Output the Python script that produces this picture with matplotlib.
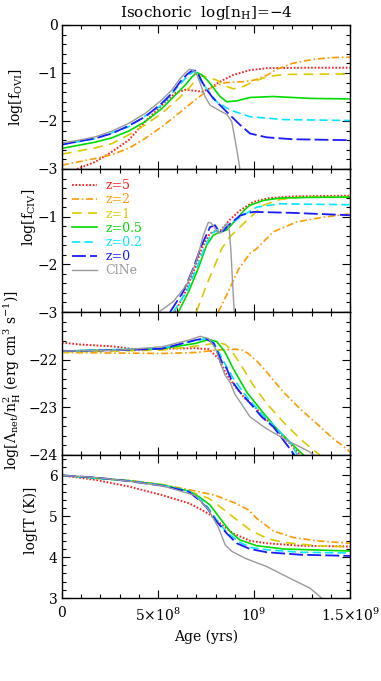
"""
Isochoric cooling, log[n_H] = -4: O VI and C IV fractions, net cooling
and temperature against age for several redshifts, plus the CIE case.
"""
import numpy as np
import matplotlib
matplotlib.use('Agg')
import matplotlib.pyplot as plt
from matplotlib.ticker import FixedLocator, MultipleLocator, FixedFormatter

# ---- data (ages in Gyr, converted to yrs when plotted) ----
labels = ['z=5', 'z=2', 'z=1', 'z=0.5', 'z=0.2', 'z=0', 'ClNe']

# log f_OVI
ovi_age = {
    'z=5': [0.078, 0.174, 0.26, 0.347, 0.434, 0.52, 0.59, 0.642, 0.694, 0.73, 0.77, 0.823, 0.892, 0.979, 1.066, 1.25, 1.5],
    'z=2': [0, 0.174, 0.26, 0.347, 0.434, 0.52, 0.608, 0.694, 0.78, 0.85, 0.95, 1.0, 1.066, 1.12, 1.2, 1.3, 1.4, 1.5],
    'z=1': [0, 0.174, 0.26, 0.347, 0.434, 0.52, 0.608, 0.66, 0.70, 0.727, 0.754, 0.806, 0.858, 0.892, 0.944, 0.996, 1.066, 1.153, 1.5],
    'z=0.5': [0, 0.174, 0.26, 0.347, 0.434, 0.52, 0.59, 0.642, 0.677, 0.703, 0.729, 0.764, 0.823, 0.858, 0.91, 0.979, 1.1, 1.3, 1.5],
    'z=0.2': [0, 0.174, 0.347, 0.52, 0.608, 0.66, 0.686, 0.70, 0.719, 0.771, 0.806, 0.875, 0.979, 1.153, 1.5],
    'z=0': [0, 0.174, 0.26, 0.347, 0.434, 0.52, 0.573, 0.616, 0.651, 0.677, 0.694, 0.712, 0.729, 0.754, 0.788, 0.858, 0.927, 0.979, 1.066, 1.2, 1.5],
    'ClNe': [0, 0.087, 0.174, 0.26, 0.347, 0.434, 0.52, 0.573, 0.616, 0.642, 0.665, 0.686, 0.703, 0.72, 0.745, 0.771, 0.823, 0.858, 0.884, 0.9, 0.918, 0.927],
}
ovi_val = {
    'z=5': [-3.0, -2.85, -2.64, -2.40, -2.01, -1.67, -1.42, -1.35, -1.37, -1.39, -1.32, -1.18, -1.04, -0.94, -0.90, -0.89, -0.89],
    'z=2': [-2.92, -2.78, -2.70, -2.57, -2.36, -2.12, -1.84, -1.56, -1.30, -1.20, -1.18, -1.15, -1.05, -0.92, -0.80, -0.72, -0.68, -0.67],
    'z=1': [-2.69, -2.56, -2.47, -2.29, -2.08, -1.84, -1.53, -1.32, -1.13, -1.06, -1.08, -1.15, -1.28, -1.33, -1.28, -1.18, -1.08, -1.03, -1.02],
    'z=0.5': [-2.57, -2.44, -2.35, -2.21, -2.01, -1.74, -1.46, -1.25, -1.08, -0.99, -1.04, -1.18, -1.49, -1.60, -1.58, -1.51, -1.49, -1.53, -1.54],
    'z=0.2': [-2.49, -2.37, -2.12, -1.67, -1.26, -1.04, -0.97, -0.99, -1.15, -1.42, -1.60, -1.77, -1.91, -1.97, -1.99],
    'z=0': [-2.49, -2.36, -2.26, -2.10, -1.91, -1.63, -1.42, -1.18, -1.03, -0.95, -0.95, -1.04, -1.18, -1.35, -1.53, -1.81, -2.08, -2.26, -2.34, -2.38, -2.40],
    'ClNe': [-2.46, -2.40, -2.33, -2.21, -2.05, -1.84, -1.56, -1.35, -1.11, -1.00, -0.92, -0.95, -1.04, -1.22, -1.49, -1.67, -1.79, -1.86, -2.01, -2.36, -2.78, -3.02],
}

# log f_CIV
civ_age = {
    'z=5': [0.589, 0.64, 0.69, 0.73, 0.77, 0.80, 0.823, 0.85, 0.875, 0.927, 0.997, 1.08, 1.2, 1.5],
    'z=2': [0.814, 0.858, 0.92, 0.979, 1.014, 1.1, 1.222, 1.361, 1.5],
    'z=1': [0.70, 0.753, 0.797, 0.832, 0.875, 0.927, 0.962, 1.049, 1.135, 1.25, 1.5],
    'z=0.5': [0.606, 0.66, 0.71, 0.753, 0.788, 0.823, 0.858, 0.91, 0.95, 0.979, 1.049, 1.135, 1.3, 1.5],
    'z=0.2': [0.58, 0.649, 0.701, 0.745, 0.779, 0.814, 0.84, 0.892, 0.944, 1.014, 1.135, 1.3, 1.5],
    'z=0': [0.563, 0.632, 0.684, 0.727, 0.771, 0.797, 0.819, 0.84, 0.875, 0.927, 0.97, 1.0, 1.2, 1.5],
    'ClNe': [0.505, 0.58, 0.649, 0.70, 0.736, 0.762, 0.775, 0.79, 0.814, 0.83, 0.85, 0.862, 0.872, 0.88, 0.889, 0.897],
}
civ_val = {
    'z=5': [-3.0, -2.6, -2.1, -1.65, -1.35, -1.30, -1.30, -1.18, -1.06, -0.87, -0.69, -0.61, -0.575, -0.56],
    'z=2': [-3.0, -2.64, -2.10, -1.77, -1.67, -1.32, -1.11, -1.01, -0.94],
    'z=1': [-3.0, -2.43, -2.01, -1.67, -1.42, -1.22, -1.08, -0.76, -0.64, -0.59, -0.58],
    'z=0.5': [-3.0, -2.57, -2.08, -1.60, -1.39, -1.32, -1.28, -1.05, -0.86, -0.76, -0.66, -0.61, -0.595, -0.59],
    'z=0.2': [-3.0, -2.57, -2.08, -1.63, -1.35, -1.28, -1.25, -1.11, -0.97, -0.80, -0.73, -0.74, -0.75],
    'z=0': [-3.0, -2.57, -2.08, -1.60, -1.22, -1.18, -1.32, -1.30, -1.15, -0.98, -0.92, -0.90, -0.92, -0.97],
    'ClNe': [-3.0, -2.78, -2.43, -1.94, -1.39, -1.12, -1.13, -1.20, -1.35, -1.33, -1.17, -1.15, -1.30, -1.74, -2.43, -3.0],
}

# log Lambda_net / n_H^2
cool_age = {
    'z=5': [0, 0.087, 0.26, 0.4, 0.52, 0.694, 0.764, 0.816, 0.85, 0.903, 0.955, 1.014, 1.101, 1.187, 1.24],
    'z=2': [0, 0.52, 0.7, 0.8, 0.903, 0.94, 0.97, 1.02, 1.066, 1.153, 1.24, 1.326, 1.413, 1.483, 1.5],
    'z=1': [0, 0.52, 0.729, 0.816, 0.85, 0.875, 0.927, 0.997, 1.066, 1.153, 1.24, 1.31, 1.344],
    'z=0.5': [0, 0.52, 0.694, 0.764, 0.806, 0.849, 0.892, 0.962, 1.031, 1.118, 1.205, 1.257],
    'z=0.2': [0, 0.52, 0.694, 0.75, 0.79, 0.84, 0.89, 0.95, 1.03, 1.12, 1.2, 1.225],
    'z=0': [0, 0.3, 0.52, 0.694, 0.747, 0.79, 0.833, 0.858, 0.885, 0.927, 0.99, 1.04, 1.101, 1.187, 1.21],
    'ClNe': [0, 0.3, 0.52, 0.6, 0.66, 0.72, 0.764, 0.80, 0.823, 0.85, 0.875, 0.9, 0.93, 0.979, 1.066, 1.17, 1.24, 1.292, 1.31],
}
cool_val = {
    'z=5': [-21.64, -21.68, -21.72, -21.79, -21.77, -21.76, -21.78, -21.98, -22.26, -22.57, -22.82, -23.03, -23.41, -23.76, -24.0],
    'z=2': [-21.85, -21.87, -21.85, -21.80, -21.78, -21.80, -21.87, -22.05, -22.26, -22.68, -23.03, -23.34, -23.66, -23.87, -23.94],
    'z=1': [-21.84, -21.80, -21.70, -21.64, -21.68, -21.77, -22.08, -22.54, -22.92, -23.31, -23.66, -23.90, -24.0],
    'z=0.5': [-21.82, -21.77, -21.66, -21.58, -21.62, -21.84, -22.19, -22.68, -23.03, -23.45, -23.80, -24.0],
    'z=0.2': [-21.82, -21.76, -21.60, -21.56, -21.64, -22.02, -22.38, -22.72, -23.10, -23.45, -23.80, -24.0],
    'z=0': [-21.82, -21.80, -21.77, -21.59, -21.55, -21.66, -22.05, -22.19, -22.45, -22.68, -22.96, -23.20, -23.41, -23.87, -24.0],
    'ClNe': [-21.82, -21.80, -21.73, -21.65, -21.59, -21.51, -21.56, -21.77, -22.05, -22.33, -22.47, -22.72, -22.90, -23.20, -23.45, -23.69, -23.83, -23.94, -24.0],
}

# log T
temp_age = {
    'z=5': [0, 0.174, 0.347, 0.52, 0.66, 0.719, 0.77, 0.823, 0.892, 0.979, 1.066, 1.24, 1.5],
    'z=2': [0, 0.347, 0.52, 0.694, 0.8, 0.903, 0.97, 1.014, 1.101, 1.205, 1.326, 1.5],
    'z=1': [0, 0.347, 0.52, 0.694, 0.764, 0.833, 0.903, 0.979, 1.066, 1.153, 1.326, 1.5],
    'z=0.5': [0, 0.347, 0.52, 0.66, 0.719, 0.77, 0.823, 0.875, 0.927, 1.014, 1.153, 1.5],
    'z=0.2': [0, 0.347, 0.52, 0.66, 0.72, 0.76, 0.81, 0.86, 0.927, 0.98, 1.066, 1.24, 1.5],
    'z=0': [0, 0.174, 0.347, 0.52, 0.66, 0.719, 0.753, 0.806, 0.858, 0.91, 0.979, 1.066, 1.24, 1.5],
    'ClNe': [0, 0.174, 0.347, 0.52, 0.694, 0.764, 0.816, 0.85, 0.885, 0.955, 1.066, 1.205, 1.292, 1.352],
}
temp_val = {
    'z=5': [6.0, 5.89, 5.73, 5.52, 5.32, 5.18, 5.04, 4.83, 4.58, 4.40, 4.34, 4.28, 4.26],
    'z=2': [6.0, 5.88, 5.78, 5.62, 5.51, 5.32, 5.16, 4.95, 4.64, 4.48, 4.40, 4.34],
    'z=1': [6.0, 5.87, 5.77, 5.56, 5.44, 5.20, 4.94, 4.67, 4.46, 4.36, 4.28, 4.25],
    'z=0.5': [6.0, 5.87, 5.77, 5.62, 5.46, 5.28, 4.95, 4.63, 4.42, 4.28, 4.20, 4.15],
    'z=0.2': [6.0, 5.87, 5.76, 5.61, 5.42, 5.22, 4.88, 4.60, 4.36, 4.24, 4.18, 4.12, 4.10],
    'z=0': [6.0, 5.95, 5.86, 5.75, 5.60, 5.38, 5.22, 4.87, 4.58, 4.34, 4.20, 4.12, 4.06, 4.03],
    'ClNe': [6.0, 5.95, 5.86, 5.75, 5.51, 5.16, 4.71, 4.30, 4.14, 3.97, 3.77, 3.44, 3.24, 3.0],
}

# ---- styles ----
colors = {'z=5': '#ff2020', 'z=2': '#ff9a00', 'z=1': '#dcca00', 'z=0.5': '#00dc00',
          'z=0.2': '#00e6ff', 'z=0': '#1a1aff', 'ClNe': '#9a9a9a'}
styles = {'z=5': (0, (1.2, 1.3)), 'z=2': (0, (5, 2, 1.2, 2)), 'z=1': (0, (7, 4.5)),
          'z=0.5': '-', 'z=0.2': (0, (6, 3)), 'z=0': (0, (10, 3)), 'ClNe': '-'}
widths = {'z=5': 1.4, 'z=2': 1.2, 'z=1': 1.2, 'z=0.5': 1.2, 'z=0.2': 1.2, 'z=0': 1.3, 'ClNe': 1.0}

plt.rcParams['font.family'] = 'DejaVu Serif'
plt.rcParams['mathtext.fontset'] = 'dejavuserif'
plt.rcParams['lines.scale_dashes'] = False
plt.rcParams['axes.linewidth'] = 1.0

fig = plt.figure(figsize=(3.81, 6.81), dpi=100)
W, H = 381.0, 681.0
left, right = 62, 350
edges = [25, 169, 312, 455, 598]

panels = [
    (ovi_age, ovi_val, (-3, 0), [0, -1, -2, -3], r'log[f$_{\rm OVI}$]', (-0.128, 0.5)),
    (civ_age, civ_val, (-3, 0), [-1, -2, -3], r'log[f$_{\rm CIV}$]', (-0.083, 0.66)),
    (cool_age, cool_val, (-24, -21), [-22, -23, -24],
     r'log[$\Lambda_{\rm net}$/n$_{\rm H}^2$ (erg cm$^3$ s$^{-1}$)]', (-0.135, 0.52)),
    (temp_age, temp_val, (3, 6.5), [3, 4, 5, 6], r'log[T (K)]', (-0.083, 0.54)),
]

axes = []
for i, (ages, vals, ylim, yt, ylab, lc) in enumerate(panels):
    top, bot = edges[i], edges[i + 1]
    ax = fig.add_axes([left / W, 1 - bot / H, (right - left) / W, (bot - top) / H])
    for key in labels:
        ax.plot(np.array(ages[key]) * 1e9, vals[key], color=colors[key],
                ls=styles[key], lw=widths[key], label=key)
    ax.set_xlim(0, 1.5e9)
    ax.set_ylim(*ylim)
    ax.yaxis.set_major_locator(FixedLocator(yt))
    ax.yaxis.set_major_formatter(FixedFormatter([str(v).replace('-', '\u2212') for v in yt]))
    ax.yaxis.set_minor_locator(MultipleLocator(0.2))
    ax.xaxis.set_major_locator(FixedLocator([0, 5e8, 1e9, 1.5e9]))
    ax.xaxis.set_minor_locator(MultipleLocator(1e8))
    ax.tick_params(which='both', direction='in', top=True, right=True, labelsize=10, width=0.8)
    ax.tick_params(which='major', length=6)
    ax.tick_params(which='minor', length=3)
    ax.tick_params(axis='y', pad=3)
    ax.set_ylabel(ylab, fontsize=10)
    ax.yaxis.set_label_coords(*lc)
    if i < 3:
        ax.tick_params(labelbottom=False)
    axes.append(ax)

axes[0].set_title(r'Isochoric  log[n$_{\rm H}$]=$-$4', fontsize=11, pad=6)

axes[3].xaxis.set_major_formatter(FixedFormatter(
    ['0', r'5$\times$10$^8$', r'10$^9$', r'1.5$\times$10$^9$']))
axes[3].tick_params(axis='x', pad=6)
axes[3].set_xlabel('Age (yrs)', fontsize=10, labelpad=4)

leg = axes[1].legend(loc='upper left', frameon=False, fontsize=9, handlelength=2.0,
                     handletextpad=0.7, labelspacing=0.1, borderaxespad=0.4,
                     labelcolor='linecolor')

fig.savefig('out.png', dpi=100)
